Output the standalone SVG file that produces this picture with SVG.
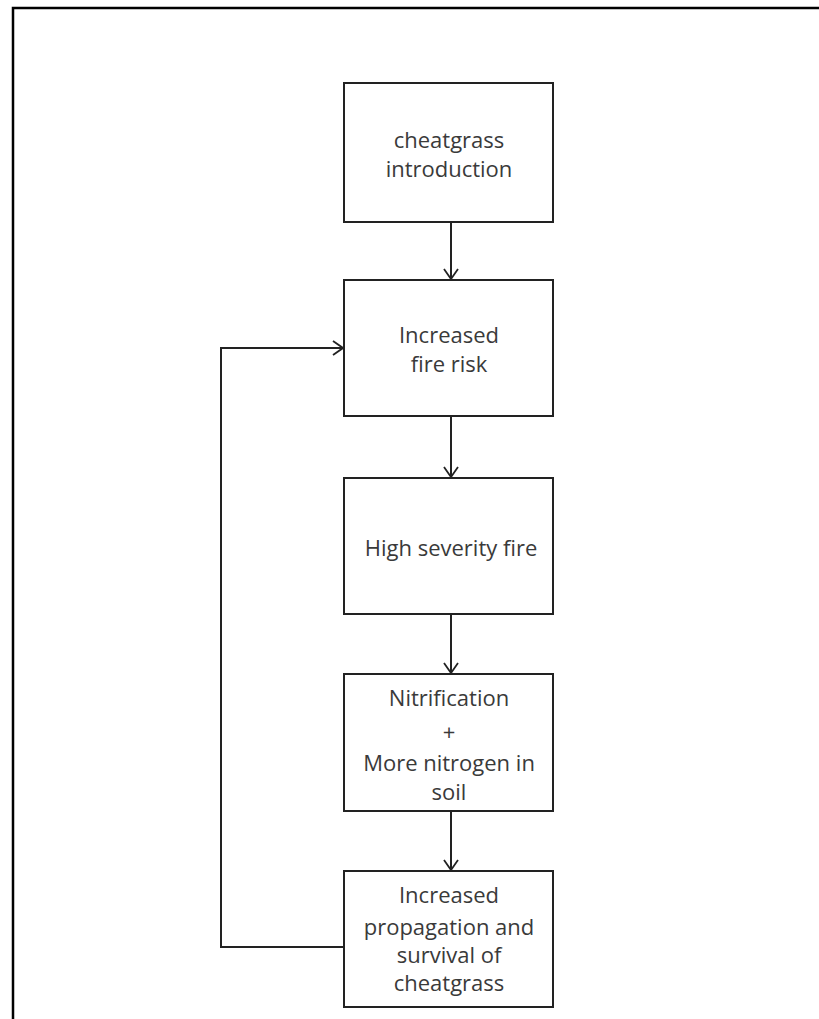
<svg xmlns="http://www.w3.org/2000/svg" width="819" height="1019" viewBox="0 0 819 1019">
<defs>
<marker id="arr" viewBox="0 0 12 16" refX="11" refY="8" markerWidth="12" markerHeight="16" markerUnits="userSpaceOnUse" orient="auto">
<path d="M1,1 L11,8 L1,15" fill="none" stroke="#222" stroke-width="1.8"/>
</marker>
</defs>
<style>
.box{fill:#fff;stroke:#222;stroke-width:2}
.t{font-family:"Open Sans","Liberation Sans",sans-serif;font-size:22px;fill:#3a3a3a;text-anchor:middle}
.c{fill:none;stroke:#222;stroke-width:2}
</style>
<rect width="819" height="1019" fill="#fff"/>
<path d="M13,1019 L13,8 L819,8" fill="none" stroke="#000" stroke-width="2.5"/>
<g id="connectors">
<line class="c" x1="451" y1="222" x2="451" y2="279" marker-end="url(#arr)"/>
<line class="c" x1="451" y1="416" x2="451" y2="477" marker-end="url(#arr)"/>
<line class="c" x1="451" y1="614" x2="451" y2="673" marker-end="url(#arr)"/>
<line class="c" x1="451" y1="811" x2="451" y2="870" marker-end="url(#arr)"/>
<path class="c" d="M344,947 L221,947 L221,348 L343,348" marker-end="url(#arr)"/>
</g>
<g id="n1">
<rect class="box" x="344" y="83" width="209" height="139"/>
<text class="t" x="449" y="148">cheatgrass</text>
<text class="t" x="449" y="177">introduction</text>
</g>
<g id="n2">
<rect class="box" x="344" y="280" width="209" height="136"/>
<text class="t" x="449" y="343">Increased</text>
<text class="t" x="449" y="372">fire risk</text>
</g>
<g id="n3">
<rect class="box" x="344" y="478" width="209" height="136"/>
<text class="t" x="451" y="556">High severity fire</text>
</g>
<g id="n4">
<rect class="box" x="344" y="674" width="209" height="137"/>
<text class="t" x="449" y="706">Nitrification</text>
<text class="t" x="449" y="740">+</text>
<text class="t" x="449" y="771">More nitrogen in</text>
<text class="t" x="449" y="800">soil</text>
</g>
<g id="n5">
<rect class="box" x="344" y="871" width="209" height="136"/>
<text class="t" x="449" y="903">Increased</text>
<text class="t" x="449" y="935">propagation and</text>
<text class="t" x="449" y="963">survival of</text>
<text class="t" x="449" y="991">cheatgrass</text>
</g>
</svg>
